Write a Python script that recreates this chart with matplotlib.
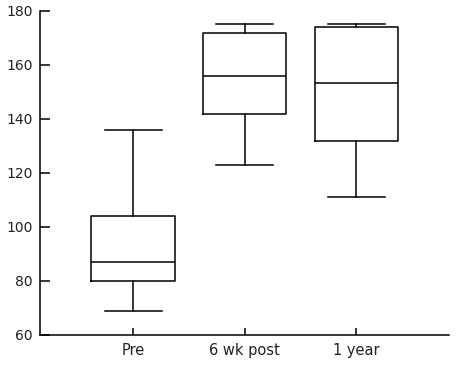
import matplotlib
matplotlib.use("Agg")
import matplotlib.pyplot as plt

# values
groups = ["Pre", "6 wk post", "1 year"]
whisk_lo = [69, 123, 111]
q1 = [80, 142, 132]
median = [87, 156, 153.5]
q3 = [104, 172, 174]
whisk_hi = [136, 175, 175]

stats = []
for i in range(len(groups)):
    stats.append({
        "label": groups[i],
        "whislo": whisk_lo[i],
        "q1": q1[i],
        "med": median[i],
        "q3": q3[i],
        "whishi": whisk_hi[i],
        "fliers": [],
    })

plt.rcParams['font.family'] = ['DejaVu Sans']
plt.rcParams['xtick.direction'] = 'in'
plt.rcParams['ytick.direction'] = 'in'
fig = plt.figure(figsize=(4.59, 3.66), dpi=100)
ax = fig.add_axes([0.0871, 0.0847, 0.978 - 0.0871, 0.970 - 0.0847])

line = dict(color="black", linewidth=1.1)
ax.bxp(stats, widths=0.745, showfliers=False,
       boxprops=line, whiskerprops=line, capprops=line,
       medianprops=line, capwidths=0.51)

ax.set_xlim(0.166, 3.83)
ax.set_ylim(60, 180)
ax.set_yticks([60, 80, 100, 120, 140, 160, 180])

ax.spines['top'].set_visible(False)
ax.spines['right'].set_visible(False)
ax.spines['left'].set_linewidth(1.1)
ax.spines['bottom'].set_linewidth(1.1)
ax.tick_params(axis='y', direction='in', length=7, width=1.1, pad=5,
               labelsize=10, labelcolor='#222222')
ax.tick_params(axis='x', direction='in', length=5, width=1.1, pad=6,
               labelsize=10.5, labelcolor='#222222')

fig.savefig("out.png", dpi=100)
